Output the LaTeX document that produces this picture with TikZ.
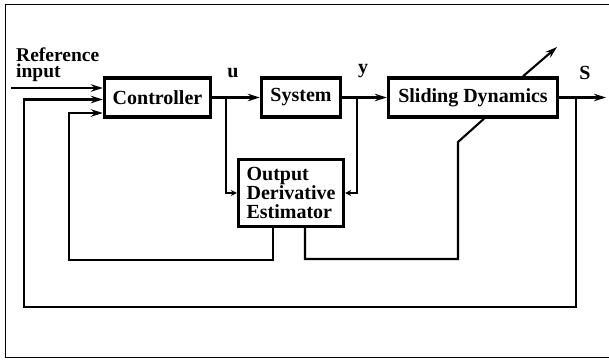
\documentclass[tikz,border=0pt]{standalone}
\usepackage{fontspec}
\setmainfont{Liberation Serif}
\usetikzlibrary{arrows.meta}
\begin{document}
\begin{tikzpicture}[x=1pt,y=-1pt,
  blk/.style={draw, line width=3.4pt, minimum height=39pt, inner sep=0pt, font=\fontsize{20}{20}\selectfont\bfseries},
  wire/.style={line width=2.1pt},
  arr/.style={wire, -{Stealth[length=12pt,width=7.5pt]}},
  arrs/.style={wire, -{Stealth[length=6pt,width=6pt]}},
  lbl/.style={font=\fontsize{20}{16}\selectfont\bfseries, inner sep=0pt}]
\useasboundingbox (0,0) rectangle (609,361);
\draw[line width=1pt] (609,4.5) -- (5,4.5) -- (5,357.5) -- (609,357.5);
% blocks
\node[blk, minimum width=106pt] (ctrl) at (157.5,97.5) {Controller};
\node[blk, minimum width=79pt] (sys) at (301,97.5) {System};
\node[blk, minimum width=169pt] (sd) at (473,97.5) {Sliding Dynamics};
\node[blk, minimum width=105pt, minimum height=67pt, align=left] (ode) at (291,193) {Output\\[-1pt]Derivative\\[-1pt]Estimator};
% labels
\node[lbl, anchor=base west, font=\fontsize{19.5}{16}\selectfont\bfseries] (ref1) at (16,61) {Reference};
\node[lbl, anchor=base west, font=\fontsize{19.5}{16}\selectfont\bfseries] (ref2) at (16,77) {input};
\node[lbl, anchor=base] (ul) at (233,77) {u};
\node[lbl, anchor=base] (yl) at (363,73) {y};
\node[lbl, anchor=base] (sl) at (585,79) {S};
% coordinates
\coordinate (refin) at (11,88);
\coordinate (ub) at (226,97.5);
\coordinate (yb) at (357,97.5);
\coordinate (out) at (606,97.5);
\coordinate (sb) at (576,97.5);
\coordinate (o1) at (576,307);
\coordinate (o2) at (24,307);
\coordinate (o3) at (24,99.5);
\coordinate (i1) at (273,260);
\coordinate (i2) at (69,260);
\coordinate (i3) at (69,113);
\coordinate (r1) at (305,259);
\coordinate (r2) at (458,259);
\coordinate (r3) at (458,142);
\coordinate (r4) at (484,117);
\coordinate (d1) at (523,78);
\coordinate (d2) at (557,47);
% connectors
\draw[arr] (refin) -- (ctrl.west |- refin);
\draw[arr] (ctrl.east) -- (sys.west);
\draw[arr] (sys.east) -- (sd.west);
\draw[arr] (sd.east) -- (out);
\draw[arrs] (ub) |- (ode.west);
\draw[arrs] (yb) |- (ode.east);
\draw[arr] (sb) -- (o1) -- (o2) -- (o3) -- (ctrl.west |- o3);
\draw[arr] (ode.south -| i1) -- (i1) -- (i2) -- (i3) -- (ctrl.west |- i3);
\draw[wire] (ode.south -| r1) -- (r1) -- (r2) -- (r3) -- (sd.south -| r4);
\draw[arr] (sd.north -| d1) -- (d2);
\end{tikzpicture}
\end{document}
